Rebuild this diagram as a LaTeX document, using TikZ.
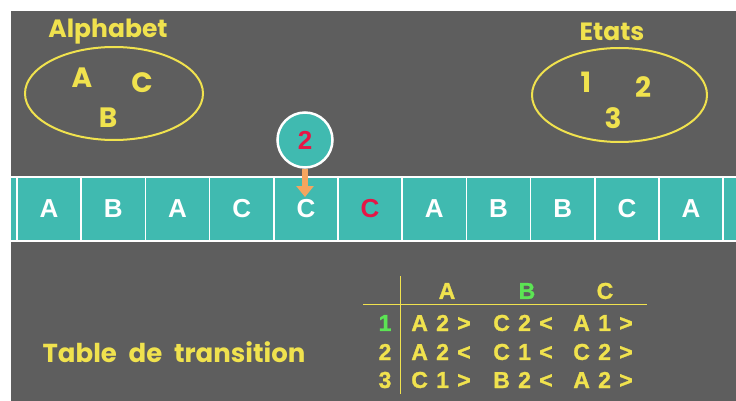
\documentclass[tikz,border=0pt]{standalone}
\usepackage{fontspec}
\setmainfont{Liberation Sans}
\newfontfamily\chalkfont{Poppins}
\newfontfamily\heavysans{Liberation Sans}[BoldFeatures={FakeBold=1.2}]
\usetikzlibrary{arrows.meta}

\definecolor{board}{RGB}{94,94,94}
\definecolor{tealcell}{RGB}{64,186,176}
\definecolor{chalkyellow}{RGB}{240,226,78}
\definecolor{headred}{RGB}{230,22,70}
\definecolor{chalkgreen}{RGB}{92,228,84}
\definecolor{headorange}{RGB}{245,165,95}

\tikzset{
  title/.style={text=chalkyellow, font=\chalkfont\bfseries\fontsize{25}{25}\selectfont, inner sep=0pt},
  member/.style={text=chalkyellow, font=\chalkfont\bfseries\fontsize{28}{28}\selectfont, inner sep=0pt},
  setline/.style={draw=chalkyellow, line width=2pt},
  cell/.style={draw=white, line width=1.6pt, fill=tealcell, minimum width=64.2pt,
    minimum height=64pt, inner sep=0pt, text=white,
    font=\bfseries\fontsize{26}{26}\selectfont},
  tabtext/.style={text=chalkyellow, font=\heavysans\bfseries\fontsize{23}{23}\selectfont, inner sep=0pt},
  tabline/.style={draw=chalkyellow, line width=1.8pt},
}
% a table entry with slightly wider spaces
\newcommand{\entry}[1]{{\spaceskip=0.36em\relax #1}}

\begin{document}
\begin{tikzpicture}[x=1pt,y=-1pt]
  % page and chalkboard
  \fill[white] (0,0) rectangle (736,401);
  \useasboundingbox (0,0) rectangle (736,401);
  \fill[board] (11,11) rectangle (736,401);

  % alphabet set
  \node[title] (alphabet) at (108,32) {Alphabet};
  \draw[setline] (114,93.5) ellipse [x radius=89pt, y radius=46.5pt];
  \node[member] (la) at (82,78) {A};
  \node[member] (lc) at (142,83) {C};
  \node[member] (lb) at (108,118) {B};

  % state set
  \node[title] (etats) at (612,32) {Etats};
  \draw[setline] (619.5,95) ellipse [x radius=87.5pt, y radius=47pt];
  \node[member] (s1) at (586,82) {1};
  \node[member] (s2) at (643,87) {2};
  \node[member] (s3) at (613,118) {3};

  % tape: partial cells at both edges, then the full cells
  \begin{scope}
    \clip (11,170) rectangle (736,250);
    \node[cell] (cl) at ({17-32.1},209) {};
    \node[cell] (cr) at ({17+64.2*11.5},209) {};
  \end{scope}
  \foreach \s [count=\i from 0] in {A,B,A,C,C,{\color{headred}C},A,B,B,C,A}
    \node[cell] (c\i) at ({17+64.2*(\i+0.5)},209) {\s};

  % read/write head
  \node[circle, draw=white, line width=2.5pt, fill=tealcell, minimum size=55pt,
        inner sep=0pt, text=headred, font=\bfseries\fontsize{26}{26}\selectfont]
        (head) at (305,140) {2};
  \coordinate (tip) at (305,197);
  \draw[headorange, line width=6pt, -{Triangle[width=17pt,length=11pt]}]
        (head.south) -- (tip);

  % transition table caption
  \node[title, font=\chalkfont\bfseries\fontsize{26}{26}\selectfont]
        (tcap) at (174,352) {\spaceskip=0.45em\relax Table de transition};

  % table rules
  \coordinate (vtop) at (400.5,276);
  \coordinate (vbot) at (400.5,394);
  \coordinate (hl) at (363,304.5);
  \coordinate (hr) at (647,304.5);
  \draw[tabline] (vtop) -- (vbot);
  \draw[tabline] (hl) -- (hr);

  % column headers
  \node[tabtext] (ha) at (447,291) {A};
  \node[tabtext, text=chalkgreen] (hb) at (527,291) {B};
  \node[tabtext] (hc) at (605,291) {C};

  % row headers
  \node[tabtext, text=chalkgreen] (r1) at (385,323) {1};
  \node[tabtext] (r2) at (385,352) {2};
  \node[tabtext] (r3) at (385,380) {3};

  % entries
  \node[tabtext] (e11) at (441,323) {\entry{A 2 >}};
  \node[tabtext] (e12) at (523,323) {\entry{C 2 <}};
  \node[tabtext] (e13) at (603,323) {\entry{A 1 >}};
  \node[tabtext] (e21) at (441,352) {\entry{A 2 <}};
  \node[tabtext] (e22) at (523,352) {\entry{C 1 <}};
  \node[tabtext] (e23) at (603,352) {\entry{C 2 >}};
  \node[tabtext] (e31) at (441,380) {\entry{C 1 >}};
  \node[tabtext] (e32) at (523,380) {\entry{B 2 <}};
  \node[tabtext] (e33) at (603,380) {\entry{A 2 >}};
\end{tikzpicture}
\end{document}
